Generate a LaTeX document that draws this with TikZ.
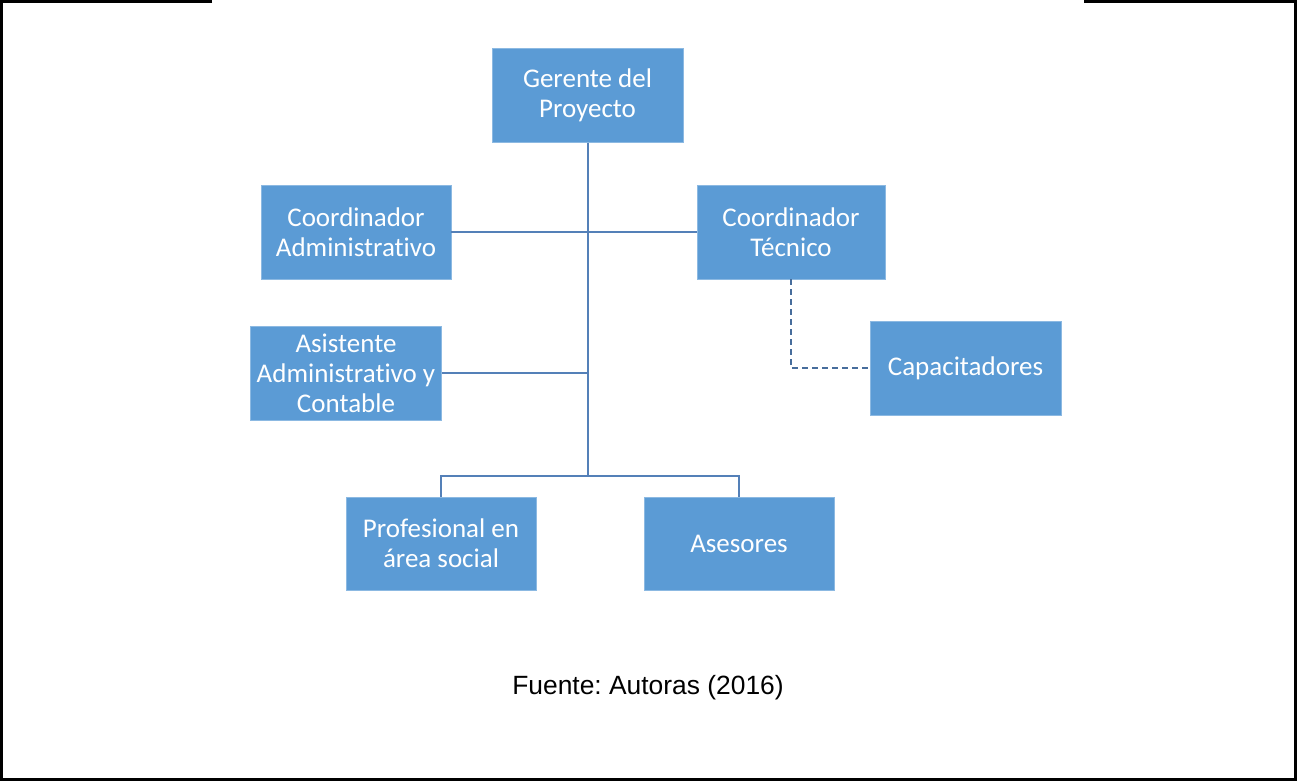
\documentclass[tikz,border=0pt]{standalone}
\usepackage{fontspec}
\setmainfont{Liberation Sans}
\newfontfamily\boxfont[Ligatures=NoCommon]{Carlito}
\definecolor{boxblue}{RGB}{91,155,213}
\definecolor{linkblue}{RGB}{84,128,184}
\frenchspacing
\begin{document}
\begin{tikzpicture}[x=1pt,y=-1pt,
  orgbox/.style={fill=boxblue,draw=boxblue!70!white,line width=0.6pt,
    minimum height=94pt,inner sep=0pt,align=center,text=white,
    font=\boxfont\fontsize{27}{30}\selectfont},
  link/.style={draw=linkblue,line width=2.2pt},
  dashlink/.style={draw=linkblue!85!black,line width=2pt,dash pattern=on 6pt off 4pt},
  frame/.style={draw=black,line width=2.6pt}]
\useasboundingbox (0,0) rectangle (1297,781);

% page frame with a gap at the top
\draw[frame] (212,1.3) -- (1.3,1.3) -- (1.3,779.7) -- (1295.7,779.7) -- (1295.7,1.3) -- (1084,1.3);

% boxes
\node[orgbox,minimum width=191pt] (ger) at (587.5,95.5) {Gerente del\\Proyecto};
\node[orgbox,minimum width=190pt] (ca) at (356,232) {Coordinador\\Administrativo};
\node[orgbox,minimum width=188pt] (ct) at (791,232) {Coordinador\\Técnico};
\node[orgbox,minimum width=191pt] (asis) at (346,373) {Asistente\\Administrativo y\\Contable};
\node[orgbox,minimum width=191pt] (cap) at (965.5,368) {Capacitadores};
\node[orgbox,minimum width=190pt,minimum height=93pt] (prof) at (441,543.5) {Profesional en\\área social};
\node[orgbox,minimum width=190pt,minimum height=93pt] (ases) at (739,543.5) {Asesores};

% junction points on the trunk
\coordinate (bus) at (588,476);
\coordinate (jasis) at (588,373);

% connectors
\draw[link] (ger.south -| bus) -- (bus);
\draw[link] (ca.east) -- (ct.west);
\draw[link] (asis.east) -- (jasis);
\draw[link] (prof.north) |- (bus) -| (ases.north);
\draw[dashlink] (ct.south) |- (cap.west);

% caption
\node[font=\fontsize{26.4}{30}\selectfont] (src) at (648,688) {Fuente: Autoras (2016)};
\end{tikzpicture}
\end{document}
